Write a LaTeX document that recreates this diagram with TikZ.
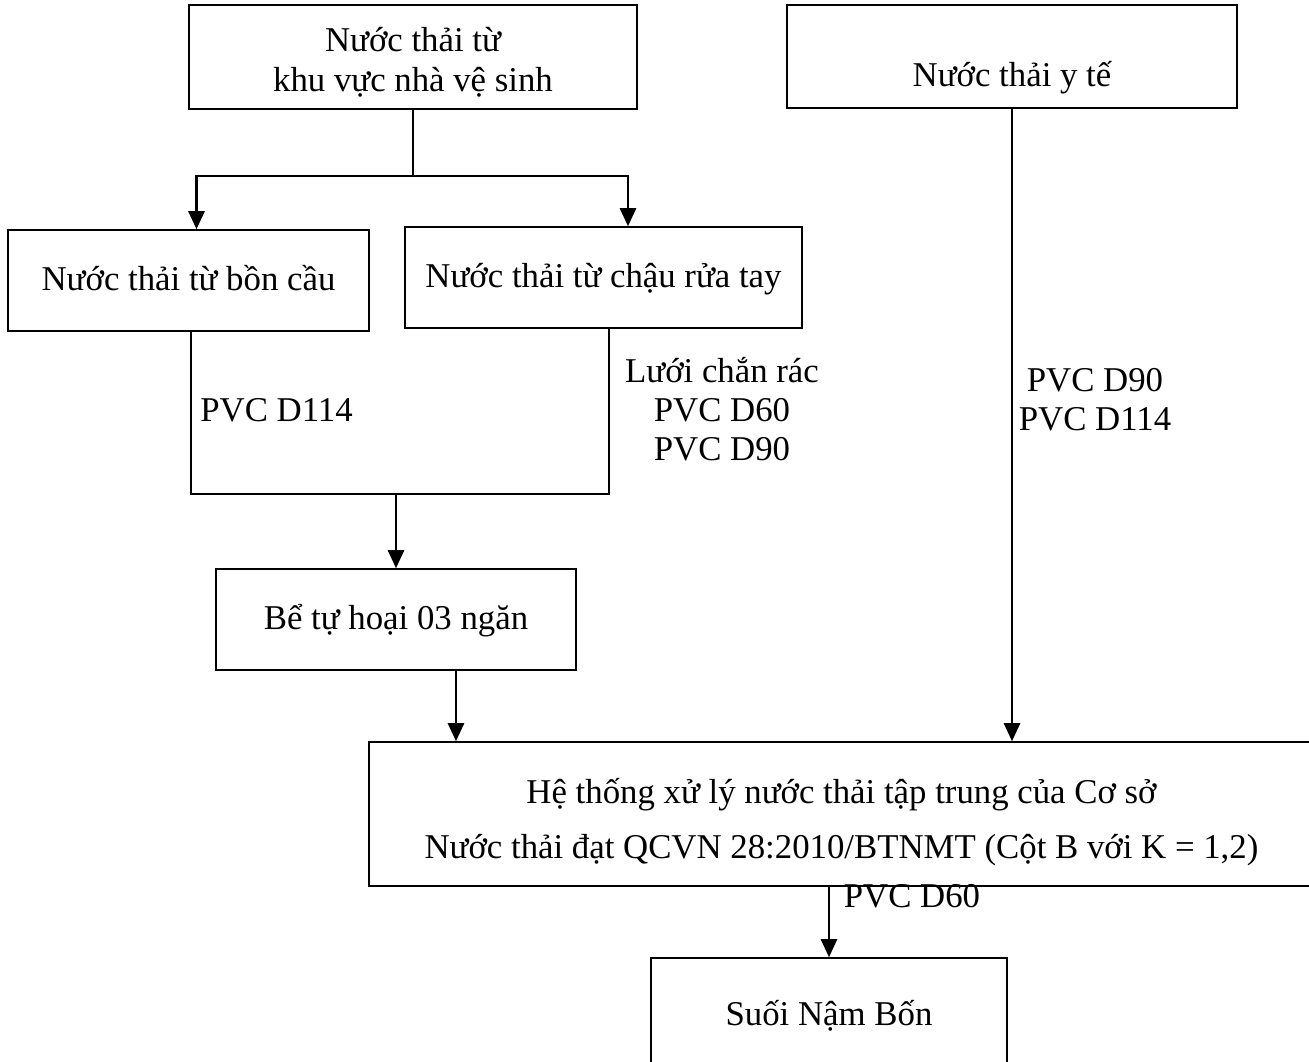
\documentclass[tikz,border=0pt]{standalone}
\usepackage{fontspec}
\setmainfont{Liberation Serif}
\usetikzlibrary{arrows.meta}
\tikzset{
  box/.style={draw, line width=0.9pt, inner sep=0pt, text height=15.3pt, text depth=4pt,
    font=\fontsize{19.8}{22.4}\selectfont},
  pipe/.style={line width=0.9pt},
  flow/.style={line width=1.5pt, -{Triangle[length=0.36cm, width=0.32cm]}},
  note/.style={inner sep=0pt, anchor=base, align=flush center, text width=5cm,
    font=\fontsize{19.8}{22.4}\selectfont},
}
\begin{document}
\begin{tikzpicture}[x=0.02cm, y=-0.02cm]
  \useasboundingbox (0,0) rectangle (1309,1062);

  \node[box, minimum width=8.96cm, minimum height=2.08cm, text width=8cm, align=flush center,
    text depth=21pt] (vesinh) at (413,57) {Nước thải từ\\khu vực nhà vệ sinh};
  \node[box, minimum width=9cm, minimum height=2.06cm, text height=38.6pt] (yte) at (1012,56.5) {Nước thải y tế};
  \node[box, minimum width=7.22cm, minimum height=2.02cm] (boncau) at (188.5,280.5) {Nước thải từ bồn cầu};
  \node[box, minimum width=7.94cm, minimum height=2.02cm] (chaurua) at (603.5,277.5) {Nước thải từ chậu rửa tay};
  \node[box, minimum width=7.2cm, minimum height=2.02cm] (tuhoai) at (396,619.5) {Bể tự hoại 03 ngăn};
  \node[box, minimum width=18.9cm, minimum height=2.88cm, text width=18cm, align=flush center,
    text depth=27.8pt] (xuly) at (841.5,814)
    {Hệ thống xử lý nước thải tập trung của Cơ sở\\[9.3pt]
     Nước thải đạt QCVN 28:2010/BTNMT (Cột B với K = 1,2)};
  \node[box, minimum width=7.12cm, minimum height=2.24cm, text height=17pt] (suoi) at (829,1014) {Suối Nậm Bốn};

  \node[note, anchor=base west, text width=] (ongboncau) at (200,421) {PVC D114};
  \node[note] (ongchaurua) at (722,382) {Lưới chắn rác\\PVC D60\\PVC D90};
  \node[note] (ongyte) at (1095,391) {PVC D90\\PVC D114};
  \node[note] (ongxa) at (912,907) {PVC D60};

  \coordinate (tach) at (413,176);
  \coordinate (gop) at (396,494);

  \draw[pipe] (vesinh.south) -- (tach);
  \draw[flow] (tach) -| ([xshift=0.16cm]boncau.north);
  \draw[flow] (tach) -| ([xshift=0.49cm]chaurua.north);
  \draw[pipe] ([xshift=0.05cm]boncau.south) |- (gop) -| ([xshift=0.11cm]chaurua.south);
  \draw[flow] (gop) -- (tuhoai.north);
  \draw[flow] ([xshift=1.2cm]tuhoai.south) -- ([xshift=1.2cm]tuhoai.south |- xuly.north);
  \draw[flow] (yte.south) -- (yte.south |- xuly.north);
  \draw[flow] (xuly.south -| suoi.north) -- (suoi.north);
\end{tikzpicture}
\end{document}
